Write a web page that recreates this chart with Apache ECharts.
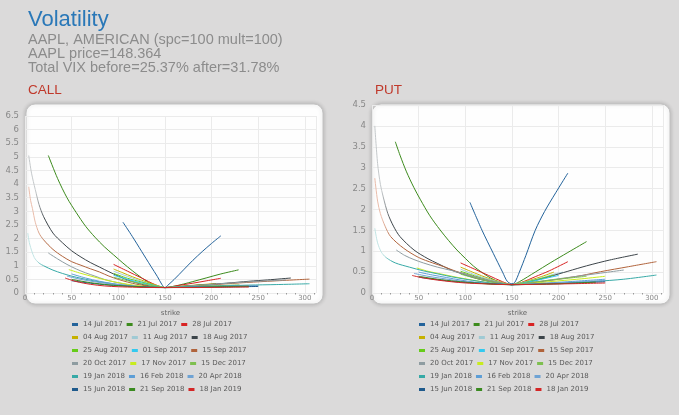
<!DOCTYPE html>
<html>
<head>
<meta charset="utf-8">
<script src="https://cdn.jsdelivr.net/npm/echarts@6/dist/echarts.min.js"></script>
<style>
  html, body { margin: 0; padding: 0; background: #dbdada; }
  #chart { width: 679px; height: 415px; }
</style>
</head>
<body>
<div id="chart"></div>
<script>
// expiries shown in both legends
const expiries = [
  "14 Jul 2017", "21 Jul 2017", "28 Jul 2017",
  "04 Aug 2017", "11 Aug 2017", "18 Aug 2017",
  "25 Aug 2017", "01 Sep 2017", "15 Sep 2017",
  "20 Oct 2017", "17 Nov 2017", "15 Dec 2017",
  "19 Jan 2018", "16 Feb 2018", "20 Apr 2018",
  "15 Jun 2018", "21 Sep 2018", "18 Jan 2019",
];

const xTicks = [0, 50, 100, 150, 200, 250, 300];
const callYTicks = [0, 0.5, 1, 1.5, 2, 2.5, 3, 3.5, 4, 4.5, 5, 5.5, 6, 6.5];
const putYTicks = [0, 0.5, 1, 1.5, 2, 2.5, 3, 3.5, 4, 4.5];

// CALL: [strike, value]
const call_14Jul17 = [[105,2.6],[115,2.08],[125,1.53],[135,0.98],[142,0.6],[147,0.3],[150,0.2],[153,0.28],[160,0.5],[170,0.85],[180,1.2],[190,1.52],[200,1.82],[210,2.1]];
const call_21Jul17 = [[25,5.05],[35,4.2],[45,3.5],[55,2.95],[65,2.45],[75,2.05],[85,1.7],[95,1.4],[105,1.1],[115,0.82],[125,0.56],[135,0.34],[145,0.22],[150,0.2],[160,0.25],[170,0.33],[180,0.42],[195,0.56],[210,0.7],[229,0.85]];
const call_28Jul17 = [[95,1.05],[110,0.8],[125,0.55],[140,0.3],[150,0.2],[165,0.28],[180,0.36],[195,0.45],[210,0.54]];
const call_04Aug17 = [[95,0.88],[105,0.74],[115,0.6],[125,0.47],[135,0.35],[145,0.24],[150,0.2],[160,0.22],[175,0.27],[190,0.31],[205,0.35]];
const call_11Aug17 = [[95,0.8],[105,0.67],[115,0.55],[125,0.43],[135,0.32],[145,0.23],[150,0.2],[165,0.22],[185,0.26],[205,0.3]];
const call_18Aug17 = [[4,5.05],[7,4.4],[11,3.8],[15,3.25],[20,2.8],[30,2.2],[40,1.85],[50,1.55],[60,1.32],[70,1.12],[80,0.95],[90,0.78],[100,0.62],[110,0.48],[120,0.37],[130,0.28],[140,0.22],[150,0.2],[170,0.25],[195,0.31],[216,0.36],[240,0.43],[260,0.48],[285,0.55]];
const call_25Aug17 = [[95,0.72],[110,0.54],[125,0.4],[140,0.27],[150,0.2],[165,0.23],[180,0.27],[195,0.31]];
const call_01Sep17 = [[95,0.65],[110,0.5],[125,0.37],[140,0.26],[150,0.2],[165,0.22],[180,0.25],[200,0.29]];
const call_15Sep17 = [[4,3.9],[6,3.4],[8,3.1],[11,2.6],[15,2.2],[20,1.95],[30,1.6],[40,1.35],[50,1.15],[60,1.02],[70,0.89],[80,0.77],[90,0.62],[100,0.5],[110,0.4],[120,0.32],[130,0.26],[140,0.22],[150,0.2],[170,0.23],[200,0.3],[230,0.37],[260,0.43],[305,0.51]];
const call_20Oct17 = [[25,1.47],[35,1.25],[45,1.05],[55,0.88],[65,0.74],[75,0.62],[85,0.5],[95,0.41],[105,0.34],[115,0.28],[125,0.24],[135,0.21],[150,0.2],[180,0.27],[210,0.34],[240,0.41],[280,0.48]];
const call_17Nov17 = [[47,0.86],[60,0.72],[75,0.58],[90,0.45],[105,0.35],[120,0.27],[135,0.22],[150,0.2],[170,0.21],[200,0.24],[230,0.26],[250,0.27]];
const call_15Dec17 = [[95,0.58],[110,0.45],[125,0.34],[140,0.25],[150,0.2],[170,0.22],[200,0.26],[230,0.3]];
const call_19Jan18 = [[3,2.2],[5,1.8],[10,1.3],[15,1.1],[20,1.0],[30,0.84],[40,0.72],[50,0.62],[60,0.54],[70,0.47],[80,0.41],[90,0.36],[100,0.31],[110,0.27],[120,0.24],[130,0.22],[140,0.2],[150,0.2],[180,0.23],[210,0.26],[240,0.29],[270,0.31],[305,0.34]];
const call_16Feb18 = [[50,0.7],[65,0.55],[80,0.43],[95,0.34],[110,0.27],[125,0.23],[140,0.21],[150,0.2],[180,0.22],[210,0.24],[250,0.27]];
const call_20Apr18 = [[45,0.62],[60,0.5],[75,0.41],[90,0.34],[105,0.28],[120,0.24],[135,0.21],[150,0.2],[180,0.21],[210,0.23],[250,0.26]];
const call_15Jun18 = [[50,0.45],[70,0.36],[90,0.29],[110,0.25],[130,0.22],[150,0.2],[180,0.21],[210,0.22],[250,0.24]];
const call_21Sep18 = [[50,0.5],[70,0.38],[90,0.3],[110,0.25],[130,0.22],[150,0.2],[180,0.21],[210,0.23],[240,0.25]];
const call_18Jan19 = [[43,0.55],[55,0.42],[70,0.32],[85,0.26],[100,0.23],[120,0.21],[150,0.2],[180,0.2],[210,0.21],[240,0.22]];

// PUT: [strike, value]
const put_14Jul17 = [[105,2.17],[118,1.5],[130,0.95],[140,0.5],[145,0.28],[150,0.22],[153,0.25],[158,0.5],[165,0.9],[175,1.5],[185,1.95],[197,2.4],[210,2.87]];
const put_21Jul17 = [[25,3.62],[30,3.3],[37,2.9],[45,2.52],[52,2.23],[62,1.85],[73,1.51],[82,1.26],[91,1.03],[100,0.83],[109,0.64],[118,0.49],[127,0.36],[137,0.26],[145,0.21],[150,0.2],[158,0.27],[175,0.5],[191,0.72],[210,0.97],[230,1.23]];
const put_28Jul17 = [[95,0.72],[110,0.57],[125,0.42],[140,0.27],[150,0.2],[160,0.25],[175,0.39],[190,0.53],[210,0.75]];
const put_04Aug17 = [[95,0.62],[110,0.48],[125,0.35],[140,0.25],[150,0.2],[165,0.28],[180,0.38],[195,0.5]];
const put_11Aug17 = [[95,0.57],[110,0.44],[125,0.33],[140,0.24],[150,0.2],[165,0.27],[180,0.35],[195,0.45],[205,0.5]];
const put_18Aug17 = [[3,4.0],[6,3.1],[9,2.6],[12,2.3],[17,1.9],[23,1.6],[30,1.35],[45,1.03],[60,0.82],[70,0.71],[85,0.55],[95,0.47],[110,0.36],[125,0.28],[140,0.22],[150,0.2],[160,0.22],[175,0.3],[190,0.39],[210,0.52],[230,0.65],[255,0.79],[285,0.93]];
const put_25Aug17 = [[95,0.52],[110,0.41],[125,0.31],[140,0.23],[150,0.2],[165,0.26],[180,0.34],[195,0.43]];
const put_01Sep17 = [[95,0.48],[110,0.38],[125,0.29],[140,0.22],[150,0.2],[165,0.25],[180,0.32],[200,0.42]];
const put_15Sep17 = [[3,2.75],[6,2.2],[9,1.9],[14,1.6],[20,1.35],[34,1.07],[50,0.85],[65,0.72],[77,0.63],[90,0.52],[105,0.42],[120,0.32],[135,0.25],[150,0.2],[170,0.24],[200,0.33],[225,0.42],[245,0.51],[275,0.63],[305,0.75]];
const put_20Oct17 = [[26,1.03],[35,0.9],[45,0.8],[55,0.72],[70,0.62],[85,0.54],[100,0.45],[115,0.36],[130,0.28],[140,0.23],[150,0.2],[170,0.25],[200,0.34],[230,0.43],[250,0.49],[270,0.55]];
const put_17Nov17 = [[48,0.6],[60,0.52],[75,0.45],[90,0.38],[105,0.32],[120,0.26],[135,0.22],[150,0.2],[175,0.24],[200,0.29],[225,0.34],[250,0.4]];
const put_15Dec17 = [[95,0.45],[110,0.36],[125,0.28],[140,0.22],[150,0.2],[170,0.25],[200,0.33],[230,0.4]];
const put_19Jan18 = [[3,1.55],[6,1.2],[10,0.98],[15,0.85],[25,0.72],[40,0.62],[55,0.53],[70,0.46],[85,0.39],[100,0.33],[115,0.28],[130,0.23],[150,0.2],[180,0.22],[210,0.25],[240,0.28],[270,0.33],[305,0.43]];
const put_16Feb18 = [[50,0.5],[65,0.43],[80,0.37],[95,0.31],[110,0.26],[125,0.23],[140,0.21],[150,0.2],[180,0.23],[210,0.27],[250,0.33]];
const put_20Apr18 = [[45,0.47],[60,0.4],[75,0.35],[90,0.3],[105,0.26],[120,0.23],[135,0.21],[150,0.2],[180,0.22],[210,0.25],[250,0.3]];
const put_15Jun18 = [[50,0.38],[70,0.32],[90,0.27],[110,0.24],[130,0.22],[150,0.2],[180,0.21],[210,0.23],[250,0.27]];
const put_21Sep18 = [[50,0.4],[70,0.33],[90,0.28],[110,0.24],[130,0.21],[150,0.2],[180,0.21],[210,0.23],[240,0.26]];
const put_18Jan19 = [[43,0.42],[55,0.36],[70,0.31],[85,0.27],[100,0.24],[120,0.22],[150,0.2],[180,0.21],[210,0.22],[250,0.24]];

const callData = [
  call_14Jul17, call_21Jul17, call_28Jul17, call_04Aug17, call_11Aug17, call_18Aug17,
  call_25Aug17, call_01Sep17, call_15Sep17, call_20Oct17, call_17Nov17, call_15Dec17,
  call_19Jan18, call_16Feb18, call_20Apr18, call_15Jun18, call_21Sep18, call_18Jan19,
];
const putData = [
  put_14Jul17, put_21Jul17, put_28Jul17, put_04Aug17, put_11Aug17, put_18Aug17,
  put_25Aug17, put_01Sep17, put_15Sep17, put_20Oct17, put_17Nov17, put_15Dec17,
  put_19Jan18, put_16Feb18, put_20Apr18, put_15Jun18, put_21Sep18, put_18Jan19,
];

const colors = [
  "#23639b", "#3d8b1d", "#d82323",
  "#c6b100", "#9fcad4", "#3c4449",
  "#66cc1a", "#33c9ef", "#b0633b",
  "#8e9ca1", "#c8ec1e", "#7ebf4f",
  "#36a9a6", "#5d9ed6", "#6fa3d4",
  "#1f5a8c", "#3a8a20", "#d42626",
];
// the long curves start pale at the far left
const paleStart = { 5: "#c4c8ca", 8: "#e9bcaa", 12: "#c2e4e4" };

const chart = echarts.init(document.getElementById("chart"));

function lineColor(i) {
  if (!paleStart[i]) return colors[i];
  return new echarts.graphic.LinearGradient(0, 0, 1, 0, [
    { offset: 0, color: paleStart[i] },
    { offset: 0.035, color: paleStart[i] },
    { offset: 0.07, color: colors[i] },
    { offset: 1, color: colors[i] },
  ]);
}

function makeSeries(data, idx) {
  return data.map((pts, i) => ({
    name: expiries[i],
    type: "line",
    xAxisIndex: idx,
    yAxisIndex: idx,
    data: pts,
    showSymbol: false,
    smooth: 0.3,
    itemStyle: { color: colors[i] },
    lineStyle: { width: 1, color: lineColor(i) },
  }));
}

function makeXAxis(idx) {
  return {
    type: "value",
    gridIndex: idx,
    min: xTicks[0],
    max: 312,
    interval: xTicks[1] - xTicks[0],
    name: "strike",
    nameLocation: "middle",
    nameGap: 17,
    nameTextStyle: { fontSize: 7, color: "#666", fontFamily: "DejaVu Sans" },
    axisLine: { show: false },
    axisTick: { show: false },
    minorTick: { show: true, splitNumber: 5, length: 1.5, lineStyle: { color: "#999" } },
    axisLabel: { fontSize: 7, color: "#888", margin: 2, showMaxLabel: false, fontFamily: "DejaVu Sans" },
    splitLine: { lineStyle: { color: "#ebebeb" } },
  };
}

function makeYAxis(idx, ticks) {
  return {
    type: "value",
    gridIndex: idx,
    min: ticks[0],
    max: ticks[ticks.length - 1],
    interval: ticks[1] - ticks[0],
    axisLine: { show: false },
    axisTick: { show: false },
    axisLabel: { fontSize: 8.5, color: "#888", margin: 6, fontFamily: "DejaVu Sans" },
    splitLine: { lineStyle: { color: "#ebebeb" } },
  };
}

function makeLegend(left) {
  return {
    left: left,
    top: 320,
    width: 190,
    padding: 0,
    icon: "rect",
    itemWidth: 6,
    itemHeight: 3,
    itemGap: 4,
    selectedMode: false,
    textStyle: { fontSize: 7, lineHeight: 9, color: "#5a5a5a", fontFamily: "DejaVu Sans" },
    data: expiries,
  };
}

const boxStyle = {
  fill: "#fefefe",
  stroke: "#c4c4c4",
  lineWidth: 1,
  shadowBlur: 4,
  shadowColor: "rgba(0,0,0,0.2)",
};

const option = {
  backgroundColor: "#dbdada",
  animation: false,
  title: [
    {
      text: "Volatility",
      left: 28,
      top: 8.5,
      padding: 0,
      textStyle: { fontSize: 22, fontWeight: "normal", color: "#2a78b8", fontFamily: "Liberation Sans" },
    },
    {
      text: "AAPL, AMERICAN (spc=100 mult=100)\nAAPL price=148.364\nTotal VIX before=25.37% after=31.78%",
      left: 28,
      top: 32.5,
      padding: 0,
      textStyle: { fontSize: 14.5, lineHeight: 14.2, fontWeight: "normal", color: "#8c8c8c", fontFamily: "Liberation Sans" },
    },
    {
      text: "CALL",
      left: 28,
      top: 83,
      padding: 0,
      textStyle: { fontSize: 13.5, fontWeight: "normal", color: "#c0392b", fontFamily: "Liberation Sans" },
    },
    {
      text: "PUT",
      left: 375,
      top: 83,
      padding: 0,
      textStyle: { fontSize: 13.5, fontWeight: "normal", color: "#c0392b", fontFamily: "Liberation Sans" },
    },
  ],
  graphic: [
    { type: "rect", z: -10, shape: { x: 26, y: 104, width: 297, height: 200, r: 9 }, style: boxStyle },
    { type: "rect", z: -10, shape: { x: 372, y: 104, width: 298, height: 200, r: 9 }, style: boxStyle },
  ],
  legend: [makeLegend(72), makeLegend(419)],
  grid: [
    { left: 25, top: 116, width: 291, height: 177 },
    { left: 372, top: 105, width: 291, height: 188 },
  ],
  xAxis: [makeXAxis(0), makeXAxis(1)],
  yAxis: [makeYAxis(0, callYTicks), makeYAxis(1, putYTicks)],
  series: [...makeSeries(callData, 0), ...makeSeries(putData, 1)],
};

chart.setOption(option);
</script>
</body>
</html>
